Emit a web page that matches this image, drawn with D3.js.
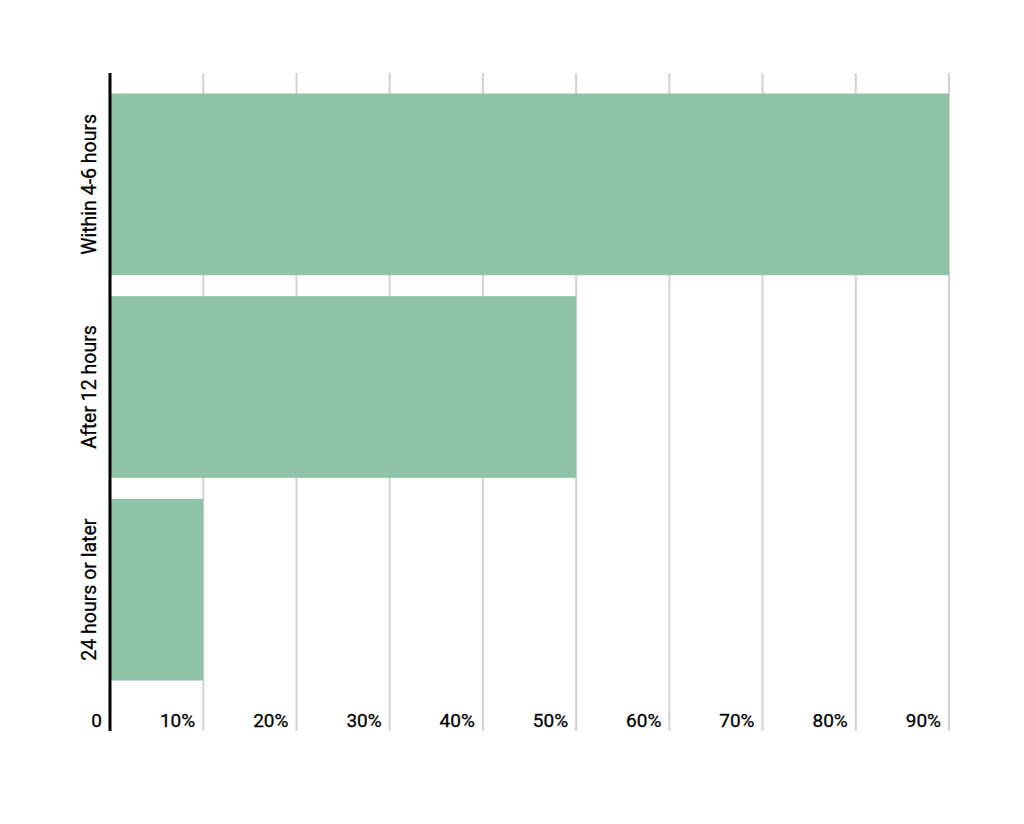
<!DOCTYPE html>
<html>
<head>
<meta charset="utf-8">
<script src="https://cdn.jsdelivr.net/npm/d3@7"></script>
<style>
  html, body { margin: 0; padding: 0; background: #fff; }
  svg text { font-family: Roboto, "Noto Sans", sans-serif; fill: #000; }
</style>
</head>
<body>
<svg id="chart" width="1024" height="824"></svg>
<script>
// data
const categories = ["Within 4-6 hours", "After 12 hours", "24 hours or later"];
const values = [90, 50, 10];
const tickValues = [0, 10, 20, 30, 40, 50, 60, 70, 80, 90];
const tickLabels = ["0", "10%", "20%", "30%", "40%", "50%", "60%", "70%", "80%", "90%"];

const svg = d3.select("#chart");
const plotTop = 73, plotBottom = 731;

const x = d3.scaleLinear().domain([0, 90]).range([110, 949]);
const y = d3.scaleBand()
    .domain(categories)
    .range([83, 691])
    .paddingInner(0.1034)
    .paddingOuter(0.0517);

// gridlines
svg.append("g").selectAll("line")
    .data(tickValues.filter(d => d > 0))
    .enter().append("line")
    .attr("x1", d => x(d)).attr("x2", d => x(d))
    .attr("y1", plotTop).attr("y2", plotBottom)
    .attr("stroke", "#d2d2d2")
    .attr("stroke-width", 2);

// bars
svg.append("g").selectAll("rect")
    .data(categories)
    .enter().append("rect")
    .attr("x", x(0))
    .attr("y", d => y(d))
    .attr("width", (d, i) => x(values[i]) - x(0))
    .attr("height", y.bandwidth())
    .attr("fill", "#8fc3a5");

// tick labels, sitting inside the plot bottom
svg.append("g").selectAll("text")
    .data(tickValues)
    .enter().append("text")
    .attr("x", d => x(d) - 8)
    .attr("y", 727)
    .attr("text-anchor", "end")
    .attr("font-size", 19)
    .attr("stroke", "#000")
    .attr("stroke-width", 0.3)
    .text((d, i) => tickLabels[i]);

// category labels, rotated
svg.append("g").selectAll("text")
    .data(categories)
    .enter().append("text")
    .attr("transform", d => `translate(96,${y(d) + y.bandwidth() / 2}) rotate(-90)`)
    .attr("text-anchor", "middle")
    .attr("font-size", 19.5)
    .attr("stroke", "#000")
    .attr("stroke-width", 0.3)
    .text(d => d);

// axis line
svg.append("line")
    .attr("x1", x(0)).attr("x2", x(0))
    .attr("y1", plotTop).attr("y2", plotBottom)
    .attr("stroke", "#000")
    .attr("stroke-width", 3);
</script>
</body>
</html>
